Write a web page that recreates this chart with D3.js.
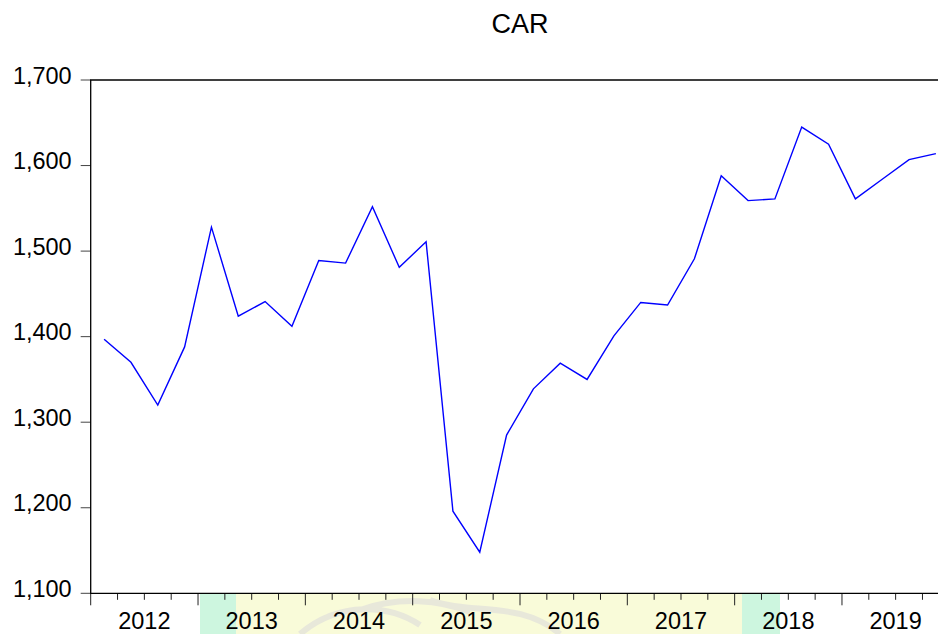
<!DOCTYPE html>
<html>
  <head>
    <meta charset="utf-8">
    <script src="https://d3js.org/d3.v7.min.js"></script>
    <style>
      body { margin: 0; background: #fff; }
      text { font-family: "Liberation Sans", Arial, sans-serif; }
    </style>
  </head>
  <body>
    <script type="text/javascript">
      // quarterly CAR values, 2012Q1 .. 2019Q4
      var years = ["2012", "2013", "2014", "2015", "2016", "2017", "2018", "2019"];
      var car = [1397, 1370, 1320, 1388, 1528, 1424, 1441, 1412,
                 1489, 1486, 1552, 1481, 1511, 1196, 1148, 1285,
                 1339, 1369, 1350, 1401, 1440, 1437, 1491, 1588,
                 1559, 1561, 1645, 1625, 1561, 1584, 1607, 1614];
      var yTicks = [1100, 1200, 1300, 1400, 1500, 1600, 1700];

      var width = 938, height = 634;
      var plotL = 90.7, plotR = 949.3, plotT = 80, plotB = 593.3;

      var svg = d3.select("body")
        .append("svg")
          .attr("width", width)
          .attr("height", height);

      // number of quarters drives the x scale
      var nq = years.length * 4;
      var x = d3.scaleLinear().domain([0, nq]).range([plotL, plotR]);
      var y = d3.scaleLinear().domain([1100, 1700]).range([plotB, plotT]);

      // faint watermark band under the axis (from the scanned source)
      var wm = svg.append("g");
      wm.append("rect").attr("x", 236).attr("y", plotB).attr("width", 506).attr("height", height - plotB)
        .style("fill", "#f9fbd9");
      wm.append("rect").attr("x", 200).attr("y", plotB).attr("width", 36).attr("height", height - plotB)
        .style("fill", "#cdf6df");
      wm.append("rect").attr("x", 742).attr("y", plotB).attr("width", 38).attr("height", height - plotB)
        .style("fill", "#cdf6df");
      wm.append("path")
        .attr("d", "M300,634 C340,600 390,605 420,625 M430,600 C470,615 520,600 560,634 M360,610 C400,596 440,600 470,612")
        .style("fill", "none").style("stroke", "#e8e8da").style("stroke-width", 6);

      // title
      svg.append("text")
        .attr("x", (plotL + plotR) / 2)
        .attr("y", 33)
        .attr("text-anchor", "middle")
        .style("font-size", "27px")
        .text("CAR");

      // y axis ticks and labels
      svg.selectAll("ytick")
        .data(yTicks)
        .enter()
        .append("line")
        .attr("x1", plotL - 10).attr("x2", plotL)
        .attr("y1", function (d) { return y(d); })
        .attr("y2", function (d) { return y(d); })
        .style("stroke", "#444").style("stroke-width", 1);

      svg.selectAll("ylab")
        .data(yTicks)
        .enter()
        .append("text")
        .attr("x", plotL - 19)
        .attr("y", function (d) { return y(d) + 3.5; })
        .attr("text-anchor", "end")
        .style("font-size", "23.5px")
        .text(function (d) { return d3.format(",")(d); });

      // x axis: quarter ticks, long ones at year starts
      svg.selectAll("xtick")
        .data(d3.range(nq + 1))
        .enter()
        .append("line")
        .attr("x1", function (d) { return x(d); })
        .attr("x2", function (d) { return x(d); })
        .attr("y1", plotB)
        .attr("y2", function (d) { return plotB + (d % 4 === 0 ? 12 : 6.5); })
        .style("stroke", "#222").style("stroke-width", 1);

      svg.selectAll("xlab")
        .data(years)
        .enter()
        .append("text")
        .attr("x", function (d, i) { return x(i * 4 + 2); })
        .attr("y", 629)
        .attr("text-anchor", "middle")
        .style("font-size", "23.5px")
        .text(function (d) { return d; });

      // frame
      svg.append("path")
        .attr("d", "M" + plotR + "," + plotT + "H" + plotL + "V" + plotB + "H" + plotR + "V" + plotT)
        .style("fill", "none").style("stroke", "#000").style("stroke-width", 1.3);

      // the series
      var line = d3.line()
        .x(function (d, i) { return x(i + 0.5); })
        .y(function (d) { return y(d); });

      svg.append("path")
        .datum(car)
        .attr("d", line)
        .style("fill", "none")
        .style("stroke", "#0000ff")
        .style("stroke-width", 1.4);
    </script>
  </body>
</html>
